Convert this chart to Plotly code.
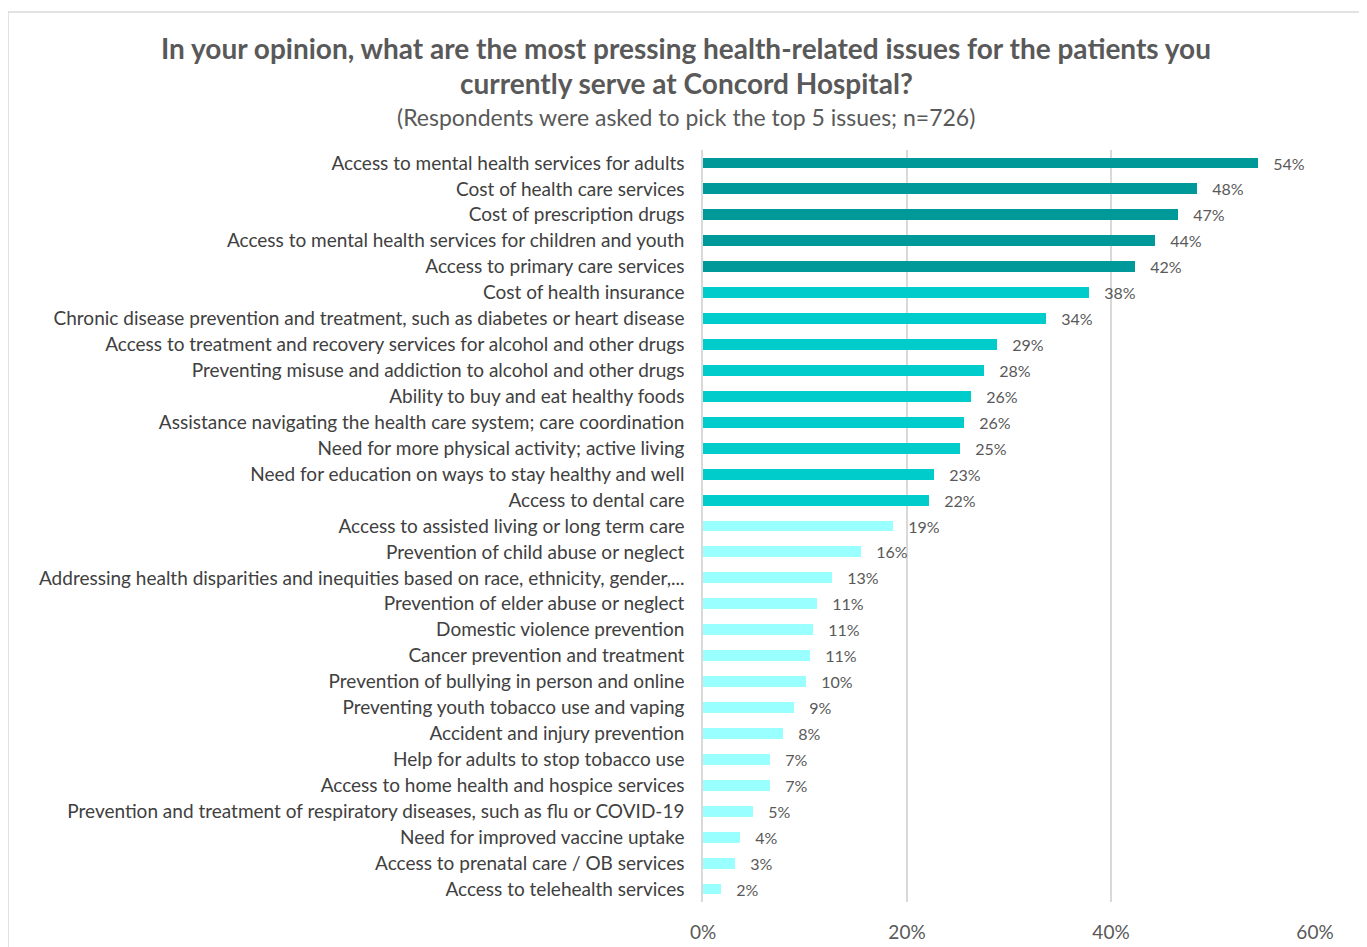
import plotly.graph_objects as go

categories = [
    "Access to mental health services for adults",
    "Cost of health care services",
    "Cost of prescription drugs",
    "Access to mental health services for children and youth",
    "Access to primary care services",
    "Cost of health insurance",
    "Chronic disease prevention and treatment, such as diabetes or heart disease",
    "Access to treatment and recovery services for alcohol and other drugs",
    "Preventing misuse and addiction to alcohol and other drugs",
    "Ability to buy and eat healthy foods",
    "Assistance navigating the health care system; care coordination",
    "Need for more physical activity; active living",
    "Need for education on ways to stay healthy and well",
    "Access to dental care",
    "Access to assisted living or long term care",
    "Prevention of child abuse or neglect",
    "Addressing health disparities and inequities based on race, ethnicity, gender,...",
    "Prevention of elder abuse or neglect",
    "Domestic violence prevention",
    "Cancer prevention and treatment",
    "Prevention of bullying in person and online",
    "Preventing youth tobacco use and vaping",
    "Accident and injury prevention",
    "Help for adults to stop tobacco use",
    "Access to home health and hospice services",
    "Prevention and treatment of respiratory diseases, such as flu or COVID-19",
    "Need for improved vaccine uptake",
    "Access to prenatal care / OB services",
    "Access to telehealth services",
]
values = [54.4, 48.4, 46.6, 44.3, 42.4, 37.8, 33.6, 28.8, 27.5, 26.3, 25.6, 25.2,
          22.6, 22.2, 18.6, 15.5, 12.6, 11.2, 10.8, 10.5, 10.1, 8.9, 7.8, 6.6,
          6.6, 4.9, 3.6, 3.1, 1.8]
labels = ["54%", "48%", "47%", "44%", "42%", "38%", "34%", "29%", "28%", "26%", "26%", "25%",
          "23%", "22%", "19%", "16%", "13%", "11%", "11%", "11%", "10%", "9%", "8%", "7%",
          "7%", "5%", "4%", "3%", "2%"]
tiers = [1]*5 + [2]*9 + [3]*15
tier_colors = {1: "#009999", 2: "#00CCCC", 3: "#99FFFF"}
colors = [tier_colors[t] for t in tiers]

FONT = "Lato, Liberation Sans, sans-serif"

# page is offset by 8px body margin; compensate
OFF = 8
L, R, T, B = 703 - OFF, 52 + OFF, 150 - OFF, 45 + OFF
PW = 1367 - L - R
PH = 947 - T - B

fig = go.Figure(go.Bar(
    x=values, y=categories, orientation="h",
    marker=dict(color=colors, line=dict(width=0)),
    width=0.42,
    text=["   " + l for l in labels], textposition="outside",
    constraintext="none",
    textfont=dict(family=FONT, size=16, color="#595959"),
    cliponaxis=False,
))

def py(page_y):
    return 1 - (page_y - OFF - T) / PH

def px(page_x):
    return (page_x - OFF - L) / PW

fig.update_layout(
    width=1367, height=947,
    margin=dict(l=L, r=R, t=T, b=B),
    paper_bgcolor="white", plot_bgcolor="white",
    showlegend=False,
    bargap=0,
    xaxis=dict(range=[0, 60], tickvals=[0, 20, 40, 60], ticktext=["0%", "20%", "40%", "60%"],
               showgrid=True, gridcolor="#D9D9D9", gridwidth=1.5, zeroline=False,
               showline=False, tickfont=dict(family=FONT, size=19, color="#595959"),
               ticklabelstandoff=17),
    yaxis=dict(categoryorder="array", categoryarray=categories[::-1],
               autorange=True, showgrid=False, showline=True, linecolor="#D9D9D9", linewidth=1.5,
               ticks="", tickfont=dict(family=FONT, size=19, color="#404040"),
               ticklabelstandoff=13),
    shapes=[dict(type="rect", xref="paper", yref="paper", x0=px(8), x1=px(1360),
                 y0=py(960), y1=py(12), line=dict(color="#D9D9D9", width=1.5),
                 fillcolor="rgba(0,0,0,0)", layer="below")],
)

fig.add_annotation(xref="paper", yref="paper", x=px(686), y=py(48),
                   text="<b>In your opinion, what are the most pressing health-related issues for the patients you</b>",
                   showarrow=False, font=dict(family=FONT, size=28, color="#595959"), xanchor="center", yanchor="middle")
fig.add_annotation(xref="paper", yref="paper", x=px(686), y=py(83),
                   text="<b>currently serve at Concord Hospital?</b>",
                   showarrow=False, font=dict(family=FONT, size=28, color="#595959"), xanchor="center", yanchor="middle")
fig.add_annotation(xref="paper", yref="paper", x=px(686), y=py(117),
                   text="(Respondents were asked to pick the top 5 issues; n=726)",
                   showarrow=False, font=dict(family=FONT, size=23, color="#595959"), xanchor="center", yanchor="middle")

fig.write_html("out.html")
